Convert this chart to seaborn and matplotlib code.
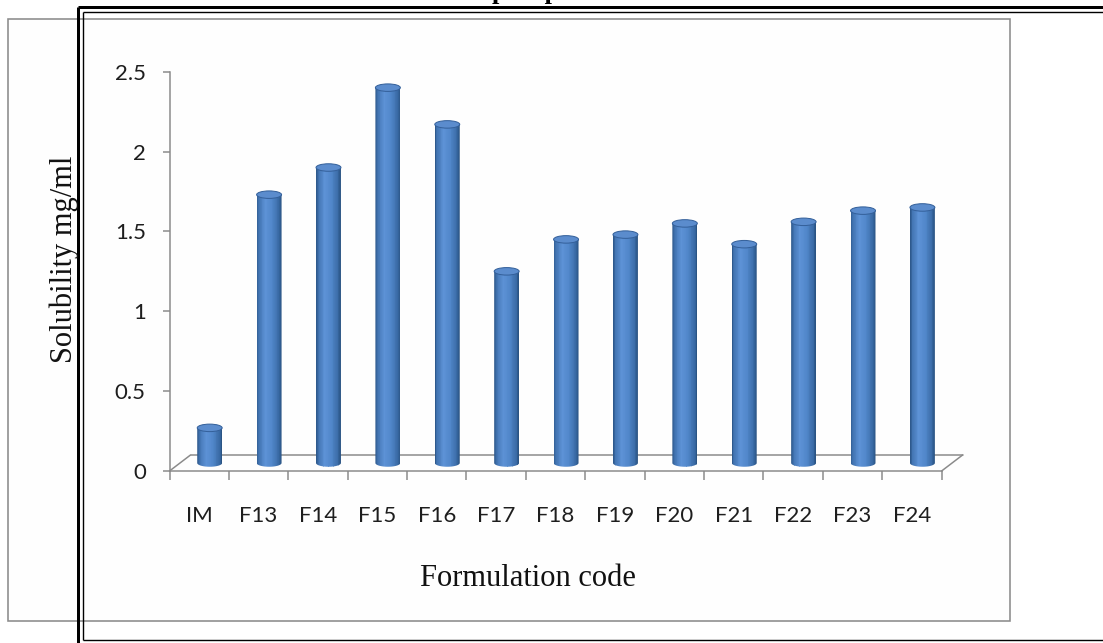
import numpy as np
import pandas as pd
import matplotlib
matplotlib.use("Agg")
import matplotlib.pyplot as plt
import matplotlib.colors as mcolors
import matplotlib.transforms as mtrans
from matplotlib.patches import Rectangle, Ellipse, PathPatch
from matplotlib.path import Path
from matplotlib.lines import Line2D
import seaborn as sns

# ---- data -------------------------------------------------------------
codes = ["IM", "F13", "F14", "F15", "F16", "F17", "F18",
         "F19", "F20", "F21", "F22", "F23", "F24"]
solubility = [0.22, 1.68, 1.85, 2.35, 2.12, 1.20, 1.40,
              1.43, 1.50, 1.37, 1.51, 1.58, 1.60]
y_ticks = [0, 0.5, 1, 1.5, 2, 2.5]
y_tick_labels = ["0", "0.5", "1", "1.5", "2", "2.5"]

# ---- canvas -----------------------------------------------------------
W, H, DPI = 1103, 643, 100
sns.set_theme(style="white")
plt.rcParams["font.family"] = ["Lato", "DejaVu Sans"]

fig = plt.figure(figsize=(W / DPI, H / DPI), dpi=DPI)
fig.patch.set_facecolor("white")


def fx(x):
    return x / W


def fy(y):
    return 1 - y / H


def pt(px):
    return px * 72 / DPI


# chart-area frame (light gray) and the double black frame around the figure
fig.add_artist(Rectangle((fx(8), fy(621)), fx(1009.5) - fx(8), fy(18.5) - fy(621),
                         transform=fig.transFigure, facecolor="#FEFEFE",
                         edgecolor="#8C8C8C", lw=pt(1.6), zorder=0))
black = dict(color="black", transform=fig.transFigure, solid_capstyle="butt", zorder=1)
fig.add_artist(Line2D([fx(78), fx(78)], [fy(6.5), fy(650)], lw=pt(3), **black))
fig.add_artist(Line2D([fx(78), fx(1110)], [fy(6.5), fy(6.5)], lw=pt(3), **black))
fig.add_artist(Line2D([fx(78), fx(1110)], [fy(643.5), fy(643.5)], lw=pt(3), **black))
fig.add_artist(Line2D([fx(82.5), fx(82.5)], [fy(11.5), fy(640)], lw=pt(1.4), **black))
fig.add_artist(Line2D([fx(82.5), fx(1110)], [fy(11.5), fy(11.5)], lw=pt(1.4), **black))
fig.add_artist(Line2D([fx(82.5), fx(1110)], [fy(640), fy(640)], lw=pt(1.4), **black))

# caption running off the top edge (only its descenders reach the page)
fig.text(fx(492), fy(-1.5), "phosphate buffer", family=["Liberation Serif", "DejaVu Serif"],
         fontweight="bold", fontsize=19, ha="left", va="baseline", color="black")

# ---- axes (front plane of the 3-D floor) -------------------------------
left, right, bottom, top = 169.5, 941.6, 471, 71.7
ax = fig.add_axes([fx(left), fy(bottom), fx(right) - fx(left), fy(top) - fy(bottom)])
ax.patch.set_alpha(0)

df = pd.DataFrame({"code": codes, "solubility": solubility})
sns.barplot(data=df, x="code", y="solubility", color="#4F81BD", saturation=1,
            width=0.42, ax=ax, zorder=3)

ax.set_xlim(-0.5, len(codes) - 0.5)
ax.set_ylim(0, 2.5)

# depth offsets: cylinders stand half way back on the floor
half_depth = mtrans.ScaledTranslation(10.5 / DPI, 8 / DPI, fig.dpi_scale_trans)
full_depth = mtrans.ScaledTranslation(21 / DPI, 16 / DPI, fig.dpi_scale_trans)
cyl_trans = ax.transData + half_depth
back_trans = ax.transData + full_depth

# floor outline (back edge and the two side edges)
gray = "#8A8A8A"
ax.add_line(Line2D([-0.5, len(codes) - 0.5], [0, 0], transform=back_trans,
                   color=gray, lw=pt(1.5), clip_on=False, zorder=1))
for xe in (-0.5, len(codes) - 0.5):
    p0 = ax.transData.transform((xe, 0))
    p1 = back_trans.transform((xe, 0))
    ax.add_line(Line2D([p0[0], p1[0]], [p0[1], p1[1]], transform=mtrans.IdentityTransform(),
                       color=gray, lw=pt(1.5), clip_on=False, zorder=1))

# cylinder shading
prof_pos = [0.0, 0.10, 0.35, 0.62, 0.88, 1.0]
prof_col = np.array([mcolors.to_rgb(c) for c in
                     ["#2A5486", "#4274B2", "#5D92D6", "#5187CA", "#3A6BA6", "#27507F"]])


def shade(t):
    return tuple(np.interp(t, prof_pos, prof_col[:, k]) for k in range(3))


cap_h = 7.5 / ((bottom - top) / 2.5)   # ellipse height in data units
n_strips = 30
for bar in list(ax.patches):
    x0, w, h = bar.get_x(), bar.get_width(), bar.get_height()
    xc = x0 + w / 2
    bar.set_transform(cyl_trans)
    bar.set_clip_on(False)
    bar.set_visible(False)

    ang = np.linspace(np.pi, 2 * np.pi, 40)
    verts = [(xc + w / 2 * np.cos(a), cap_h / 2 * np.sin(a)) for a in ang]
    verts += [(x0 + w, h), (x0, h), verts[0]]
    codes_p = [Path.MOVETO] + [Path.LINETO] * (len(verts) - 2) + [Path.CLOSEPOLY]
    body = PathPatch(Path(verts, codes_p), transform=cyl_trans, facecolor="none",
                     edgecolor="none")
    ax.add_patch(body)
    body.set_clip_on(False)

    sw = w / n_strips
    for k in range(n_strips):
        r = Rectangle((x0 + k * sw, -cap_h), sw * 1.05, h + cap_h,
                      transform=cyl_trans, facecolor=shade((k + 0.5) / n_strips),
                      edgecolor="none", zorder=3)
        ax.add_patch(r)
        r.set_clip_path(body)

    cap = Ellipse((xc, h), w, cap_h, transform=cyl_trans, facecolor="#5B8CCD",
                  edgecolor="#34609A", lw=pt(1.0), zorder=4, clip_on=False)
    ax.add_patch(cap)

# ---- axis styling --------------------------------------------------------
for s in ("top", "right"):
    ax.spines[s].set_visible(False)
for s in ("left", "bottom"):
    ax.spines[s].set_color(gray)
    ax.spines[s].set_linewidth(pt(1.5))

ax.set_yticks(y_ticks, y_tick_labels)
ax.tick_params(axis="y", which="major", direction="out", length=pt(7), width=pt(1.5),
               color=gray, pad=12, labelsize=16, labelcolor="#1E1E1E", left=True)
ax.set_xticks(range(len(codes)), codes)
ax.set_xticks(np.arange(-0.5, len(codes)), minor=True)
ax.tick_params(axis="x", which="major", length=0, pad=25, labelsize=16,
               labelcolor="#1E1E1E")
ax.tick_params(axis="x", which="minor", direction="out", length=pt(9), width=pt(1.5),
               color=gray, bottom=True)
ax.set_xlabel("")
ax.set_ylabel("")

serif = ["Liberation Serif", "DejaVu Serif"]
fig.text(fx(64), fy(259), "Solubility mg/ml", rotation=90, family=serif, fontsize=22,
         ha="center", va="center", color="#111111")
fig.text(fx(527.5), fy(578), "Formulation code", family=serif, fontsize=22,
         ha="center", va="center", color="#111111")

fig.savefig("out.png", dpi=DPI)
